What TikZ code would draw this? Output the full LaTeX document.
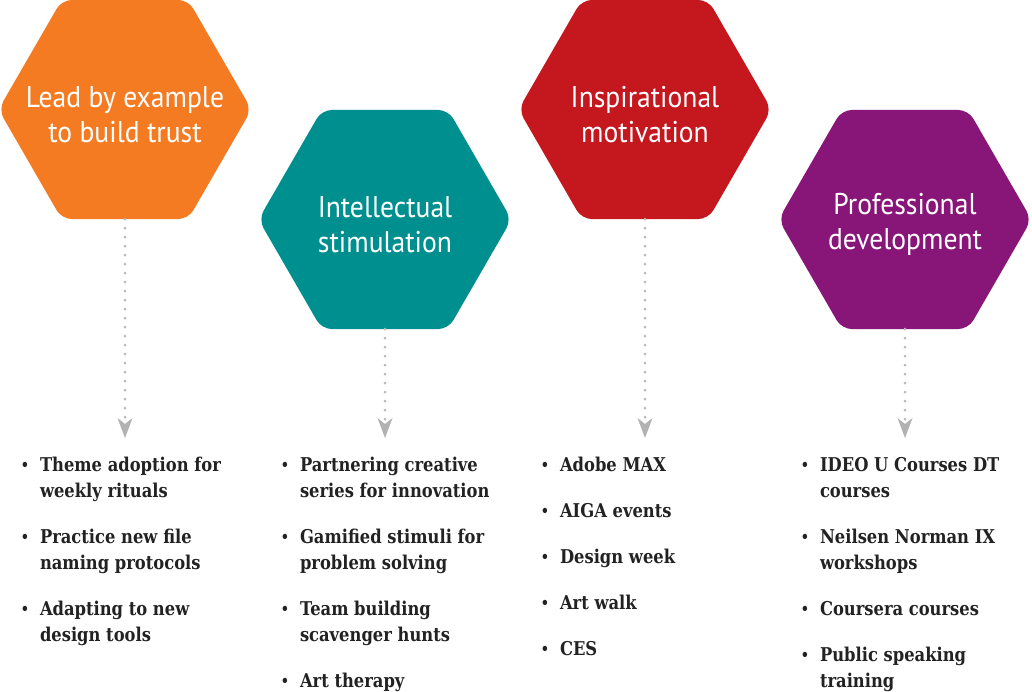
\documentclass[tikz,border=0pt]{standalone}
\usepackage{fontspec}
\usetikzlibrary{shapes.geometric,arrows.meta}
\newfontfamily\hexfont{PT Sans}[FakeStretch=0.92]
\newfontfamily\itemfont{DejaVu Serif}[FakeStretch=0.86]
\definecolor{corange}{RGB}{244,123,34}
\definecolor{cteal}{RGB}{0,143,143}
\definecolor{cred}{RGB}{196,23,30}
\definecolor{cpurple}{RGB}{136,22,120}
\definecolor{dotgray}{RGB}{185,185,185}
\definecolor{arrowgray}{RGB}{178,178,178}
\definecolor{textdark}{RGB}{34,34,34}
\newcommand\itembul{\leavevmode\llap{\raisebox{0.5pt}{\fontsize{15}{15}\selectfont\textbullet}\hspace{11pt}}}
\begin{document}
\begin{tikzpicture}[x=1pt,y=-1pt,
  hex/.style={regular polygon, regular polygon sides=6, minimum size=253pt,
    inner sep=0pt, outer sep=0pt, rounded corners=10pt, draw=none, fill=#1},
  hextext/.style={inner sep=0pt, text=white, align=center, yshift=-5pt,
    font=\hexfont\fontsize{30}{35}\selectfont},
  conn/.style={draw=dotgray, line width=3pt, line cap=round, dash pattern=on 0pt off 9pt,
    -{Stealth[length=20pt,width=15pt,inset=6pt,line width=0pt,color=arrowgray,fill=arrowgray]}},
  item/.style={anchor=base west, inner sep=0pt, outer sep=0pt, text=textdark,
    font=\itemfont\bfseries\fontsize{19}{26}\selectfont}
]
\useasboundingbox (0,0) rectangle (1032,691);
\fill[white] (0,0) rectangle (1032,691);

\node[hex=corange] (h1) at (125,109.5) {};
\node[hex=cteal] (h2) at (385,219.5) {};
\node[hex=cred] (h3) at (645,109.5) {};
\node[hex=cpurple] (h4) at (905,219.5) {};
\node[hextext] (t1) at (h1.center) {Lead by example\\to build trust};
\node[hextext] (t2) at (h2.center) {Intellectual\\stimulation};
\node[hextext] (t3) at (h3.center) {Inspirational\\motivation};
\node[hextext] (t4) at (h4.center) {Professional\\development};

\coordinate (a1) at (125,438);
\coordinate (a2) at (385,438);
\coordinate (a3) at (645,438);
\coordinate (a4) at (905,438);
\draw[conn] (h1.south) -- (a1);
\draw[conn] (h2.south) -- (a2);
\draw[conn] (h3.south) -- (a3);
\draw[conn] (h4.south) -- (a4);

% column 1
\node[item] (i11) at (40,471) {\parbox[t]{220pt}{\raggedright\itembul Theme adoption for\\weekly rituals}};
\node[item] (i12) at (40,543) {\parbox[t]{220pt}{\raggedright\itembul Practice new file\\naming protocols}};
\node[item] (i13) at (40,615) {\parbox[t]{220pt}{\raggedright\itembul Adapting to new\\design tools}};
% column 2
\node[item] (i21) at (300,471) {\parbox[t]{220pt}{\raggedright\itembul Partnering creative\\series for innovation}};
\node[item] (i22) at (300,543) {\parbox[t]{220pt}{\raggedright\itembul Gamified stimuli for\\problem solving}};
\node[item] (i23) at (300,615) {\parbox[t]{220pt}{\raggedright\itembul Team building\\scavenger hunts}};
\node[item] (i24) at (300,687) {\parbox[t]{220pt}{\raggedright\itembul Art therapy}};
% column 3
\node[item] (i31) at (560,471) {\parbox[t]{220pt}{\raggedright\itembul Adobe MAX}};
\node[item] (i32) at (560,517) {\parbox[t]{220pt}{\raggedright\itembul AIGA events}};
\node[item] (i33) at (560,563) {\parbox[t]{220pt}{\raggedright\itembul Design week}};
\node[item] (i34) at (560,609) {\parbox[t]{220pt}{\raggedright\itembul Art walk}};
\node[item] (i35) at (560,655) {\parbox[t]{220pt}{\raggedright\itembul CES}};
% column 4
\node[item] (i41) at (820,471) {\parbox[t]{200pt}{\raggedright\itembul IDEO U Courses DT\\courses}};
\node[item] (i42) at (820,543) {\parbox[t]{200pt}{\raggedright\itembul Neilsen Norman IX\\workshops}};
\node[item] (i43) at (820,615) {\parbox[t]{200pt}{\raggedright\itembul Coursera courses}};
\node[item] (i44) at (820,661) {\parbox[t]{200pt}{\raggedright\itembul Public speaking\\training}};
\end{tikzpicture}
\end{document}
